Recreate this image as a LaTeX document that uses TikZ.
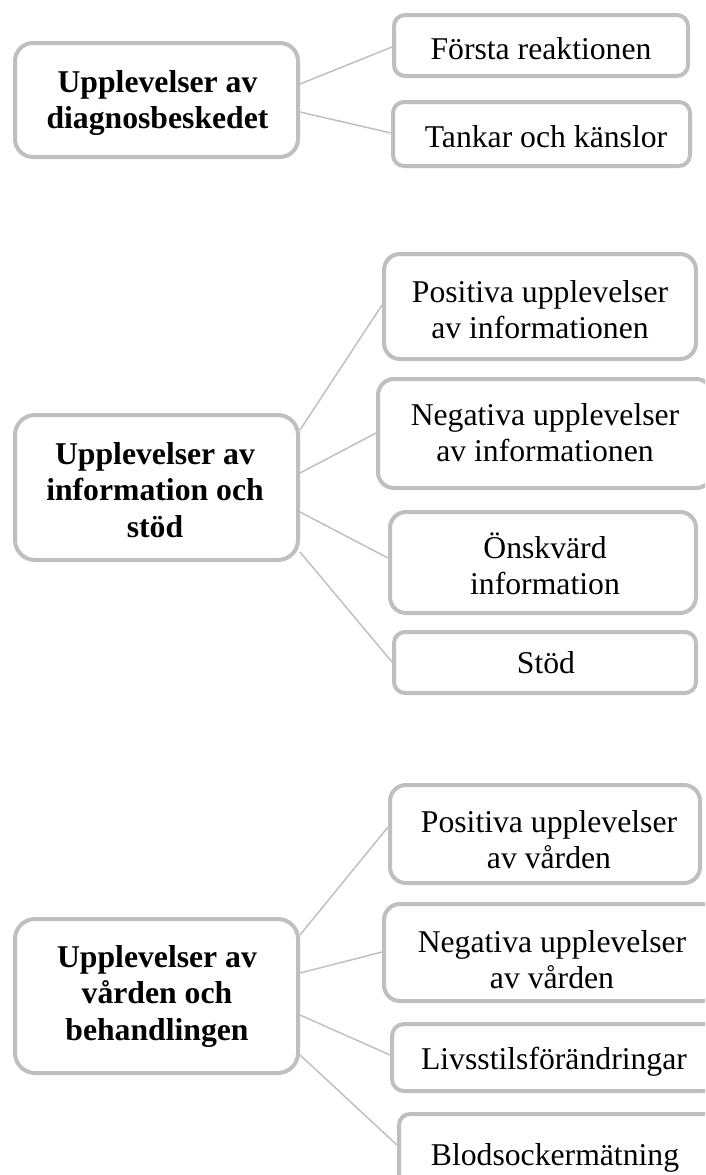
\documentclass[tikz,border=0pt]{standalone}
\usepackage{fontspec}
\setmainfont{Liberation Serif}
\definecolor{boxgray}{HTML}{BFBFBF}
\definecolor{linegray}{HTML}{C0C0C0}
\tikzset{
  box/.style={draw=boxgray, line width=4pt, fill=white, inner sep=0pt, outer sep=2pt},
  txt/.style={font=\fontsize{31.7}{36.5}\selectfont, align=center, inner sep=0pt, text=black},
  head/.style={txt, font=\fontsize{31.7}{36.5}\selectfont\bfseries},
  conn/.style={draw=linegray, line width=1.5pt},
}
\begin{document}
\begin{tikzpicture}[x=1pt,y=-1pt]
\useasboundingbox (0,0) rectangle (705,1175);
\clip (0,0) rectangle (705,1175);
% ---------- group 1 ----------
\node[box, minimum width=283pt, minimum height=114pt, rounded corners=18pt] (A) at (156.5,100) {};
\node[box, minimum width=294pt, minimum height=61pt, rounded corners=11pt] (F) at (541,45.5) {};
\node[box, minimum width=297pt, minimum height=64pt, rounded corners=11pt] (T) at (541.5,134) {};
\node[head] (At) at (157.5,103) {\strut Upplevelser av\\\strut diagnosbeskedet};
\node[txt] (Ft) at (541,51.7) {\strut Första reaktionen};
\node[txt] (Tt) at (546,139.7) {\strut Tankar och känslor};
\draw[conn] ([yshift=16pt]A.east) -- ([yshift=-1.5pt]F.west);
\draw[conn] ([yshift=-12pt]A.east) -- ([yshift=1pt]T.west);
% ---------- group 2 ----------
\node[box, minimum width=283pt, minimum height=145pt, rounded corners=20pt] (B) at (156.5,487.5) {};
\node[box, minimum width=312pt, minimum height=105pt, rounded corners=16pt] (P1) at (540,306.5) {};
\node[box, minimum width=334pt, minimum height=109pt, rounded corners=16pt] (N1) at (545,433.5) {};
\node[box, minimum width=306pt, minimum height=101pt, rounded corners=16pt] (O) at (543,562.5) {};
\node[box, minimum width=302pt, minimum height=61pt, rounded corners=11pt] (S) at (545,662.5) {};
\node[head] (Bt) at (155,493.2) {\strut Upplevelser av\\\strut information och\\\strut stöd};
\node[txt] (P1t) at (540,313) {\strut Positiva upplevelser\\\strut av informationen};
\node[txt] (N1t) at (545,436) {\strut Negativa upplevelser\\\strut av informationen};
\node[txt] (Ot) at (545,569) {\strut Önskvärd\\\strut information};
\node[txt] (St) at (546,665.7) {\strut Stöd};
\draw[conn] ([yshift=57.5pt]B.east) -- ([yshift=1.5pt]P1.west);
\draw[conn] ([yshift=14.5pt]B.east) -- ([yshift=0.5pt]N1.west);
\draw[conn] ([yshift=-24.5pt]B.east) -- ([yshift=4.5pt]O.west);
\draw[conn] ([yshift=-64.5pt]B.east) -- ([yshift=0.5pt]S.west);
% ---------- group 3 ----------
\node[box, minimum width=283pt, minimum height=154pt, rounded corners=20pt] (C) at (156.5,996) {};
\node[box, minimum width=310pt, minimum height=98pt, rounded corners=16pt] (P2) at (545,834) {};
\node[box, minimum width=334pt, minimum height=97pt, rounded corners=16pt] (N2) at (551,952.5) {};
\node[box, minimum width=324pt, minimum height=67pt, rounded corners=12pt] (L) at (554,1057.5) {};
\node[box, minimum width=330pt, minimum height=84pt, rounded corners=11pt] (Bl) at (564,1156) {};
\node[head] (Ct) at (157,996.2) {\strut Upplevelser av\\\strut vården och\\\strut behandlingen};
\node[txt] (P2t) at (549,843) {\strut Positiva upplevelser\\\strut av vården};
\node[txt] (N2t) at (552,963) {\strut Negativa upplevelser\\\strut av vården};
\node[txt] (Lt) at (554,1061.7) {\strut Livsstilsförändringar};
\node[txt] (Blt) at (555,1157.7) {\strut Blodsockermätning};
\draw[conn] ([yshift=61pt]C.east) -- ([yshift=7pt]P2.west);
\draw[conn] ([yshift=23pt]C.east) -- ([yshift=0.5pt]N2.west);
\draw[conn] ([yshift=-19pt]C.east) -- ([yshift=2.5pt]L.west);
\draw[conn] ([yshift=-59pt]C.east) -- ([yshift=11pt]Bl.west);
\end{tikzpicture}
\end{document}
